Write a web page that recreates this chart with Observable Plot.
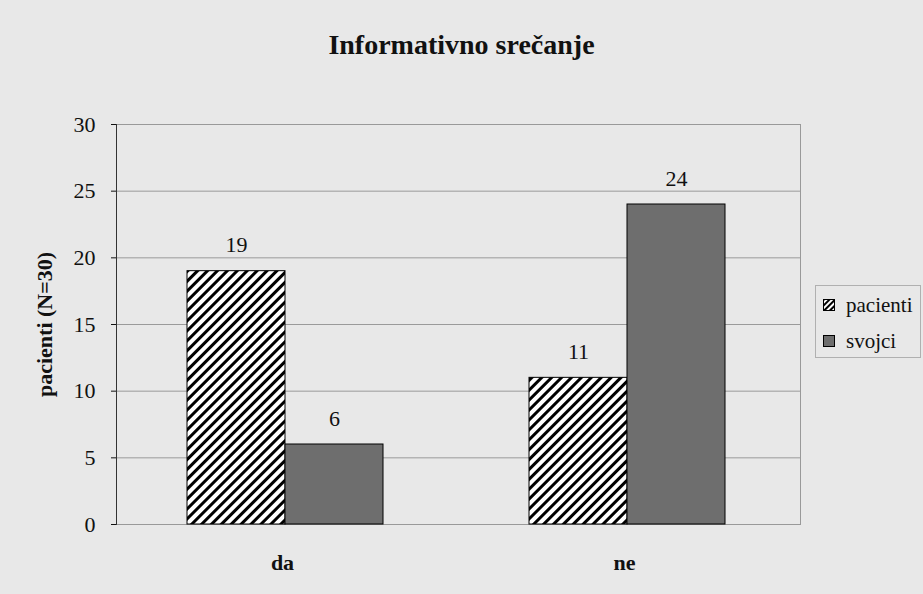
<!DOCTYPE html>
<html><head><meta charset="utf-8">
<script src="https://cdn.jsdelivr.net/npm/d3@7"></script>
<script src="https://cdn.jsdelivr.net/npm/@observablehq/plot@0.6"></script>
<style>
body{margin:0;background:#e8e8e8;font-family:"Liberation Serif","Times New Roman",serif;}
#wrap{position:relative;width:923px;height:594px;overflow:hidden;}
#title{position:absolute;top:29px;left:0;width:923px;text-align:center;font-weight:bold;font-size:28px;line-height:32px;color:#111;}
#legend{position:absolute;left:815px;top:285px;width:106px;height:73px;border:1px solid #b0b0b0;box-sizing:border-box;font-size:21px;color:#111;}
.item{position:absolute;left:7px;display:flex;align-items:center;gap:11px;line-height:22px;}
</style></head>
<body>
<div id="wrap">
<div id="title">Informativno srečanje</div>
<div id="chart"></div>
<div id="legend"></div>
</div>
<script>
const categories = ["da", "ne"];
const series = ["pacienti", "svojci"];
const pacienti = [19, 11];
const svojci = [6, 24];
const yTicks = [0, 5, 10, 15, 20, 25, 30];
const seriesFills = ["url(#hatch)", "#6e6e6e"];

const data = categories.flatMap((c, i) => [
  {cat: c, series: "pacienti", value: pacienti[i]},
  {cat: c, series: "svojci", value: svojci[i]}
]);

const svg = Plot.plot({
  width: 923,
  height: 594,
  marginTop: 124,
  marginBottom: 70,
  marginLeft: 115,
  marginRight: 123,
  style: {background: "transparent", fontFamily: "'Liberation Serif','Times New Roman',serif", color: "#111"},
  fx: {domain: categories, padding: 0},
  x: {domain: series, paddingInner: 0, paddingOuter: 0.73, align: 0.485, axis: null},
  y: {domain: [0, 30]},
  color: {domain: series, range: seriesFills},
  marks: [
    Plot.gridY(yTicks, {stroke: "#9a9a9a", strokeOpacity: 1}),
    Plot.frame({facet: "super", stroke: "#999"}),
    Plot.frame({facet: "super", anchor: "left", stroke: "#333"}),
    Plot.barY(data, {fx: "cat", x: "series", y: "value", fill: "series", stroke: "#000", strokeWidth: 1}),
    Plot.text(data, {fx: "cat", x: "series", y: "value", text: d => String(d.value), dy: -26, fontSize: 22}),
    Plot.axisY({ticks: yTicks, tickSize: 5, tickPadding: 16, fontSize: 22, label: null}),
    Plot.axisY({ticks: [], label: "pacienti (N=30)", labelAnchor: "center", labelArrow: "none", labelOffset: 80, fontWeight: "bold", fontSize: 22}),
    Plot.axisFx({anchor: "bottom", tickSize: 0, tickPadding: 30, dx: -5, fontSize: 22, fontWeight: "bold", label: null})
  ]
});

const defs = d3.select(svg).insert("defs", ":first-child");
const pat = defs.append("pattern").attr("id", "hatch").attr("patternUnits", "userSpaceOnUse")
  .attr("width", 7).attr("height", 7).attr("patternTransform", "rotate(45)");
pat.append("rect").attr("width", 7).attr("height", 7).attr("fill", "#fff");
pat.append("rect").attr("width", 3).attr("height", 7).attr("fill", "#000");

document.getElementById("chart").appendChild(svg);

const legend = document.getElementById("legend");
series.forEach((s, i) => {
  const it = document.createElement("div");
  it.className = "item";
  it.style.top = (i === 0 ? 8 : 44) + "px";
  const fill = i === 0
    ? `<defs><pattern id="lh" patternUnits="userSpaceOnUse" width="4" height="4" patternTransform="rotate(45)"><rect width="4" height="4" fill="#fff"/><rect width="2" height="4" fill="#000"/></pattern></defs><rect x="0.5" y="0.5" width="11" height="11" fill="url(#lh)" stroke="#000"/>`
    : `<rect x="0.5" y="0.5" width="11" height="11" fill="${seriesFills[1]}" stroke="#000"/>`;
  it.innerHTML = `<svg width="12" height="12">${fill}</svg><span>${s}</span>`;
  legend.appendChild(it);
});
</script>
</body></html>
